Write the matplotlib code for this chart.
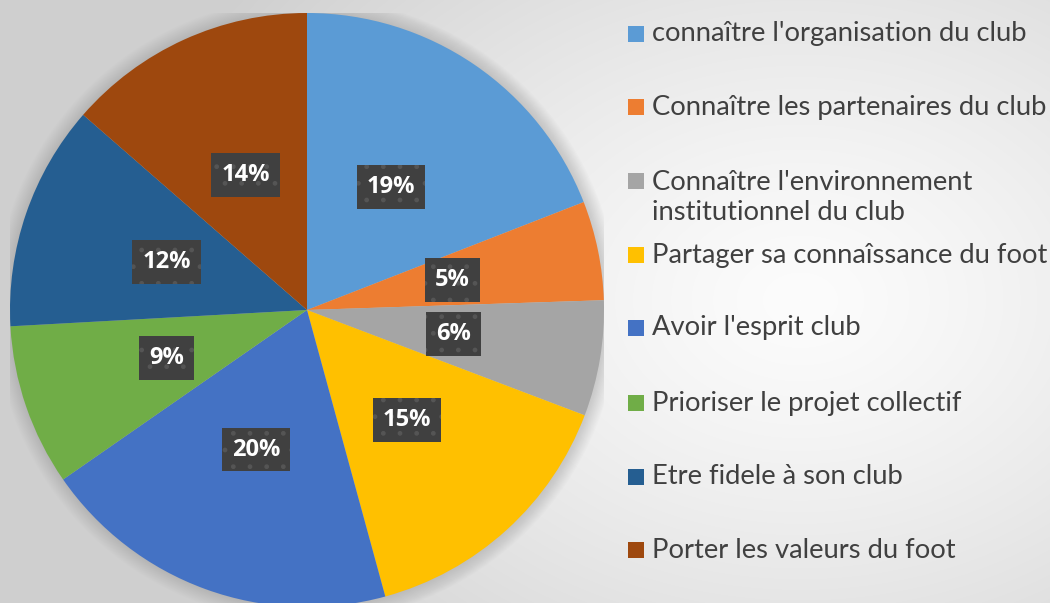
import numpy as np
import matplotlib
matplotlib.use("Agg")
import matplotlib.pyplot as plt
from matplotlib.patches import Circle, Rectangle

categories = [
    "connaître l'organisation du club",
    "Connaître les partenaires du club",
    "Connaître l'environnement\ninstitutionnel du club",
    "Partager sa connaîssance du foot",
    "Avoir l'esprit club",
    "Prioriser le projet collectif",
    "Etre fidele à son club",
    "Porter les valeurs du foot",
]
values = [19.1, 5.4, 6.3, 15.0, 19.6, 8.8, 12.3, 13.6]
colors = ["#5B9BD5", "#ED7D31", "#A5A5A5", "#FFC000",
          "#4472C4", "#70AD47", "#255E91", "#9E480E"]

W, H = 1050, 603
fig = plt.figure(figsize=(W / 100, H / 100), dpi=100)

# background gradient
bg = fig.add_axes([0, 0, 1, 1])
yy, xx = np.mgrid[0:H, 0:W]
d = np.sqrt(((xx - 800) / 700.0) ** 2 + ((yy - 300) / 520.0) ** 2)
g = 252 - 45 * np.clip(d, 0, 1) ** 1.3
img = np.dstack([g, g, g]) / 255.0
bg.imshow(img, extent=[0, W, H, 0], aspect="auto")
bg.set_xlim(0, W)
bg.set_ylim(H, 0)
bg.axis("off")

# pie axes
cx, cy, R = 307, 310, 297
ax = fig.add_axes([(cx - R) / W, (H - cy - R) / H, 2 * R / W, 2 * R / H])
ax.set_zorder(2)
ax.patch.set_alpha(0)
# soft shadow around pie
for r in np.linspace(1.05, 1.0, 14):
    ax.add_patch(Circle((0, 0), r, color="#909090", alpha=0.03, lw=0, zorder=0))

wedges, texts, autotexts = ax.pie(
    values, colors=colors, startangle=90, counterclock=False,
    autopct="%1.0f%%", pctdistance=0.5, radius=1.0,
    wedgeprops=dict(linewidth=0),
    textprops=dict(color="white", fontsize=17, fontweight="bold", family="Open Sans"),
)
for t in autotexts:
    t.set_bbox(dict(boxstyle="square,pad=0.42", fc="#404040", ec="#555555",
                    lw=0, hatch="."))
ax.set_xlim(-1, 1)
ax.set_ylim(-1, 1)
ax.set_aspect("auto")
ax.axis("off")

# legend
leg_y = [34, 107, 181, 255, 328, 403, 477, 550]
for lbl, col, y in zip(categories, colors, leg_y):
    bg.add_patch(Rectangle((628, y - 8), 16, 16, color=col, lw=0))
    nl = lbl.count("\n")
    bg.text(652, y + nl * 16.5, lbl, fontsize=19.7, color="#404040", family="Lato",
            va="center", ha="left", linespacing=1.3)

fig.savefig("out.png", dpi=100)
